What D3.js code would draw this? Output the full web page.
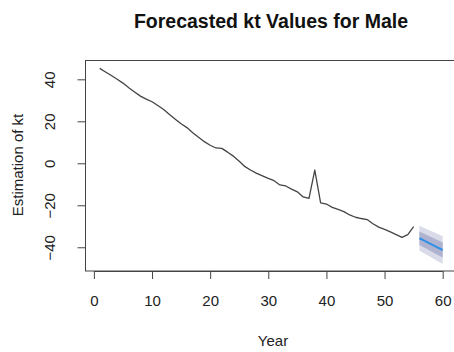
<!DOCTYPE html>
<html>
<head>
<meta charset="utf-8">
<script src="https://cdn.jsdelivr.net/npm/d3@7"></script>
<style>
  html, body { margin: 0; padding: 0; background: #fff; }
  svg { display: block; font-family: "Liberation Sans", Arial, sans-serif; }
</style>
</head>
<body>
<svg id="chart" width="454" height="352"></svg>
<script>
// Observed kt estimates, years 1..55
const years = d3.range(1, 56);
const kt = [
  45.2, 43.5, 41.8, 40.0, 38.2, 36.0, 34.0, 32.0, 30.6, 29.3,
  27.5, 25.6, 23.3, 21.0, 18.8, 17.0, 14.6, 12.4, 10.3, 8.6,
  7.3, 7.1, 5.3, 3.4, 1.0, -1.6, -3.3, -4.8, -6.0, -7.2,
  -8.3, -10.3, -10.8, -12.3, -13.6, -16.0, -16.7, -3.2, -18.8, -19.4,
  -21.0, -22.0, -23.0, -24.6, -25.7, -26.3, -26.8, -28.8, -30.4, -31.5,
  -32.7, -34.0, -35.3, -34.0, -30.2
];

// Forecast horizon, years 56..60
const fYears = [56, 57, 58, 59, 60];
const fMean = [-35.7, -37.1, -38.5, -39.9, -41.3];
const lo80 = [-38.9, -40.4, -41.9, -43.4, -44.9];
const hi80 = [-32.5, -33.8, -35.1, -36.4, -37.7];
const lo95 = [-41.6, -43.2, -44.8, -46.4, -47.9];
const hi95 = [-29.8, -31.0, -32.2, -33.4, -34.7];

const xTicks = [0, 10, 20, 30, 40, 50, 60];
const yTicks = [-40, -20, 0, 20, 40];

const svg = d3.select("#chart");

const x = d3.scaleLinear().domain([-1.36, 62.36]).range([86, 456.4]);
const y = d3.scaleLinear().domain([-51.3, 49.2]).range([271, 60]);

// Prediction intervals (95% outer, 80% inner)
const band = (lo, hi) => d3.area()
  .x((d, i) => x(fYears[i]))
  .y0((d, i) => y(lo[i]))
  .y1((d, i) => y(hi[i]));

svg.append("path").datum(fYears)
  .attr("d", band(lo95, hi95)).attr("fill", "#D9DBE9");
svg.append("path").datum(fYears)
  .attr("d", band(lo80, hi80)).attr("fill", "#B0B3CF");

// Observed series
svg.append("path").datum(kt)
  .attr("d", d3.line().x((d, i) => x(years[i])).y(d => y(d)))
  .attr("fill", "none").attr("stroke", "#444").attr("stroke-width", 1.3)
  .attr("stroke-linejoin", "round");

// Point forecast
svg.append("path").datum(fMean)
  .attr("d", d3.line().x((d, i) => x(fYears[i])).y(d => y(d)))
  .attr("fill", "none").attr("stroke", "#2E90E6").attr("stroke-width", 2);

// Plot frame
svg.append("rect")
  .attr("x", 85.5).attr("y", 60.5)
  .attr("width", 456.4 - 85.5).attr("height", 271 - 60.5)
  .attr("fill", "none").attr("stroke", "#444").attr("stroke-width", 1);

// Axes
const xAxis = d3.axisBottom(x).tickValues(xTicks).tickSize(8).tickPadding(16);
const gx = svg.append("g").attr("transform", "translate(0,271)").call(xAxis);
gx.select(".domain").attr("d", `M${x(0)},0.5H${x(60)}`).attr("stroke", "#444");
gx.selectAll(".tick line").attr("stroke", "#444");
gx.selectAll(".tick text")
  .attr("font-size", 15).attr("fill", "#222")
  .attr("font-family", "Liberation Sans, Arial, sans-serif");

const yAxis = d3.axisLeft(y).tickValues(yTicks).tickSize(8);
const gy = svg.append("g").attr("transform", "translate(85.5,0)").call(yAxis);
gy.select(".domain").attr("d", `M0,${y(-40)}V${y(40)}`).attr("stroke", "#444");
gy.selectAll(".tick line").attr("stroke", "#444");
gy.selectAll(".tick text")
  .attr("font-size", 15).attr("fill", "#222")
  .attr("font-family", "Liberation Sans, Arial, sans-serif")
  .attr("text-anchor", "middle")
  .attr("x", null)
  .attr("transform", "translate(-35.5,0) rotate(-90)")
  .attr("y", 0)
  .attr("dy", "0.35em");

// Titles
svg.append("text")
  .attr("x", 271).attr("y", 28)
  .attr("text-anchor", "middle")
  .attr("font-size", 19.5).attr("font-weight", "bold").attr("fill", "#111")
  .text("Forecasted kt Values for Male");

svg.append("text")
  .attr("x", 273).attr("y", 346)
  .attr("text-anchor", "middle")
  .attr("font-size", 15).attr("fill", "#222")
  .text("Year");

svg.append("text")
  .attr("transform", "translate(23,165) rotate(-90)")
  .attr("text-anchor", "middle")
  .attr("font-size", 15).attr("fill", "#222")
  .text("Estimation of kt");
</script>
</body>
</html>
